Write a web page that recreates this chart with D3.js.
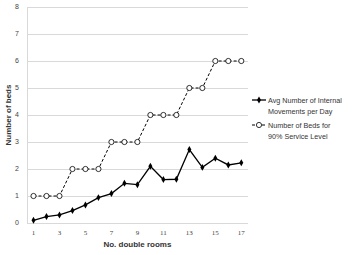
<!DOCTYPE html>
<html><head><meta charset="utf-8">
<script src="https://cdn.jsdelivr.net/npm/d3@7/dist/d3.min.js"></script>
<style>body{margin:0;background:#fff}svg{display:block}</style>
</head><body>
<svg id="c" width="356" height="255"></svg>
<script>
const rooms = [1,2,3,4,5,6,7,8,9,10,11,12,13,14,15,16,17];
const avgMovements = [0.1,0.24,0.3,0.46,0.67,0.94,1.09,1.47,1.42,2.1,1.61,1.62,2.72,2.06,2.4,2.15,2.23];
const bedsService = [1,1,1,2,2,2,3,3,3,4,4,4,5,5,6,6,6];
const xTickLabels = [1,3,5,7,9,11,13,15,17];
const yTickLabels = [0,1,2,3,4,5,6,7,8];
const seriesNames = [["Avg Number of Internal","Movements per Day"],["Number of Beds for","90% Service Level"]];

const svg = d3.select("#c");
const x = d3.scaleLinear().domain([0.5,17.5]).range([27,247.8]);
const y = d3.scaleLinear().domain([0,8]).range([223,7]);

// gridlines
svg.append("g").selectAll("line").data(yTickLabels).join("line")
  .attr("x1",x(0.5)).attr("x2",x(17.5)).attr("y1",d=>y(d)).attr("y2",d=>y(d))
  .attr("stroke","#d9d9d9").attr("stroke-width",1).attr("shape-rendering","crispEdges");
svg.append("line").attr("x1",x(0.5)).attr("x2",x(0.5)).attr("y1",y(0)).attr("y2",y(8))
  .attr("stroke","#d9d9d9").attr("shape-rendering","crispEdges");

// y tick labels
svg.append("g").selectAll("text").data(yTickLabels).join("text")
  .attr("x",19).attr("y",d=>y(d)).attr("dy","0.35em").attr("text-anchor","end")
  .attr("font-family","Liberation Sans, Arial, sans-serif").attr("font-size",7).attr("fill","#444")
  .text(d=>d);
// x tick labels
svg.append("g").selectAll("text").data(xTickLabels).join("text")
  .attr("x",d=>x(d)).attr("y",235).attr("text-anchor","middle")
  .attr("font-family","Liberation Serif, serif").attr("font-size",7).attr("fill","#444")
  .text(d=>d);

// titles
svg.append("text").attr("x",x(9)).attr("y",247).attr("text-anchor","middle")
  .attr("font-family","Liberation Sans, Arial, sans-serif").attr("font-size",8).attr("font-weight","bold").attr("fill","#333")
  .text("No. double rooms");
svg.append("text").attr("transform",`translate(11,${y(4)}) rotate(-90)`).attr("text-anchor","middle")
  .attr("font-family","Liberation Sans, Arial, sans-serif").attr("font-size",8).attr("font-weight","bold").attr("fill","#333")
  .text("Number of beds");

const line = d3.line().x((d,i)=>x(rooms[i])).y(d=>y(d));

// dashed series
svg.append("path").datum(bedsService).attr("d",line).attr("fill","none")
  .attr("stroke","#000").attr("stroke-width",1).attr("stroke-dasharray","3,2");
svg.append("g").selectAll("circle").data(bedsService).join("circle")
  .attr("cx",(d,i)=>x(rooms[i])).attr("cy",d=>y(d)).attr("r",2.6)
  .attr("fill","#fff").attr("stroke","#000").attr("stroke-width",0.8);

// solid series
svg.append("path").datum(avgMovements).attr("d",line).attr("fill","none")
  .attr("stroke","#000").attr("stroke-width",1.3);
const diamond = d3.symbol().type(d3.symbolDiamond2 || d3.symbolDiamond).size(16);
svg.append("g").selectAll("path").data(avgMovements).join("path")
  .attr("transform",(d,i)=>`translate(${x(rooms[i])},${y(d)})`)
  .attr("d",d3.symbol().type(d3.symbolDiamond).size(14)).attr("fill","#000");

// legend
const lg = svg.append("g").attr("font-family","Liberation Sans, Arial, sans-serif").attr("font-size",7.2).attr("fill","#333");
const ly = [100,125];
// entry 1
lg.append("line").attr("x1",252).attr("x2",266).attr("y1",ly[0]).attr("y2",ly[0]).attr("stroke","#000").attr("stroke-width",1.3);
lg.append("path").attr("transform",`translate(259,${ly[0]})`).attr("d",d3.symbol().type(d3.symbolDiamond).size(14)).attr("fill","#000");
// entry 2
lg.append("line").attr("x1",252).attr("x2",266).attr("y1",ly[1]).attr("y2",ly[1]).attr("stroke","#000").attr("stroke-width",1).attr("stroke-dasharray","3,2");
lg.append("circle").attr("cx",259).attr("cy",ly[1]).attr("r",2.6).attr("fill","#fff").attr("stroke","#000").attr("stroke-width",0.8);
seriesNames.forEach((nm,k)=>{
  const t = lg.append("text").attr("x",268).attr("y",ly[k]).attr("dy","0.35em");
  t.append("tspan").attr("x",268).text(nm[0]);
  t.append("tspan").attr("x",268).attr("dy",11).text(nm[1]);
});
</script>
</body></html>
